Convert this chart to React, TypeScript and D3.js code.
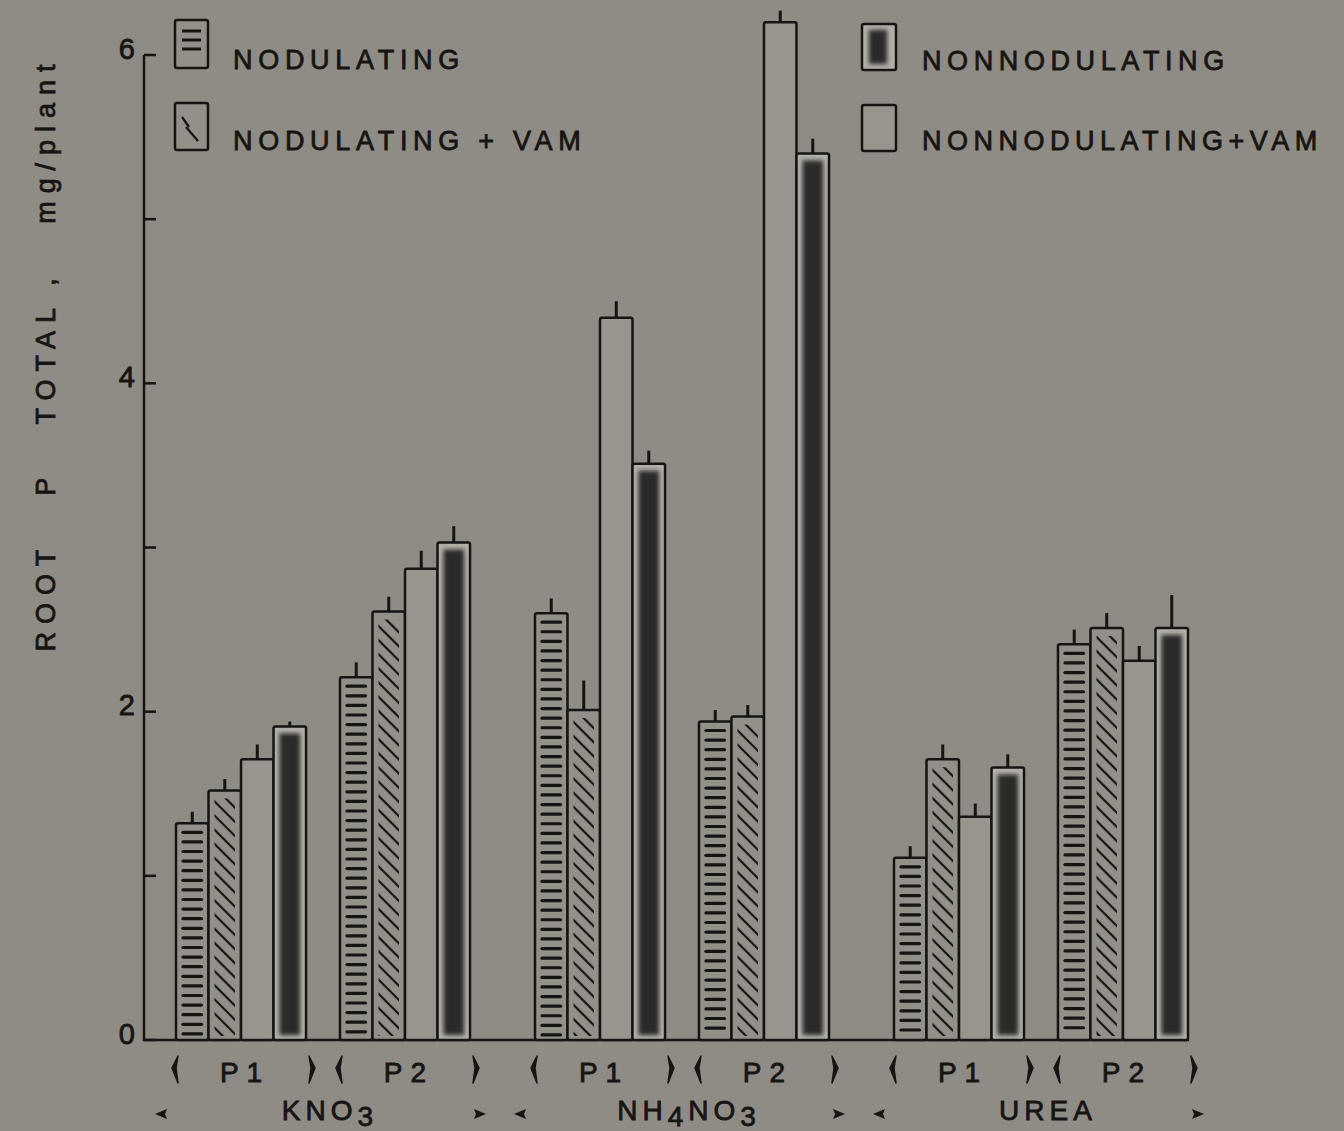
import * as d3 from "d3";
import React from "react";

// treatments, P levels and bar series
const sources = ["KNO3", "NH4NO3", "UREA"];
const levels = ["P1", "P2"];
const seriesKeys = ["nod", "nodVam", "nonVam", "non"];

// values per slot: KNO3 P1, KNO3 P2, NH4NO3 P1, NH4NO3 P2, UREA P1, UREA P2
const nodulating = [1.32, 2.21, 2.6, 1.94, 1.11, 2.41];
const nodulatingVam = [1.52, 2.61, 2.01, 1.97, 1.71, 2.51];
const nonnodulatingVam = [1.71, 2.87, 4.4, 6.2, 1.36, 2.31];
const nonnodulating = [1.91, 3.03, 3.51, 5.4, 1.66, 2.51];

const errNod = [0.07, 0.09, 0.09, 0.07, 0.07, 0.09];
const errNodVam = [0.07, 0.09, 0.18, 0.07, 0.09, 0.09];
const errNonVam = [0.09, 0.11, 0.1, 0.07, 0.08, 0.09];
const errNon = [0.03, 0.1, 0.08, 0.09, 0.08, 0.2];

const yTicks = [0, 2, 4, 6];
const yMinor = [1, 3, 5];

const W = 1344;
const H = 1131;
const BG = "#8f8b85";
const INK = "#161514";
const FONT = "'Liberation Sans', Arial, sans-serif";

const valuesBy: Record<string, number[]> = {
  nod: nodulating,
  nodVam: nodulatingVam,
  nonVam: nonnodulatingVam,
  non: nonnodulating,
};
const errBy: Record<string, number[]> = {
  nod: errNod,
  nodVam: errNodVam,
  nonVam: errNonVam,
  non: errNon,
};

export default function App() {
  const y = d3.scaleLinear().domain([0, 6]).range([1040, 55]);
  const outer = d3.scaleBand().domain(sources).range([176, 1188]).paddingInner(0.181);
  const inner = d3.scaleBand().domain(levels).range([0, outer.bandwidth()]).paddingInner(0.207);
  const sx = d3.scaleBand().domain(seriesKeys).range([0, inner.bandwidth()]);
  const bw = sx.bandwidth();

  const bars: any[] = [];
  sources.forEach((src, si) => {
    levels.forEach((lv, li) => {
      const slot = si * 2 + li;
      seriesKeys.forEach((k) => {
        const x = (outer(src) as number) + (inner(lv) as number) + (sx(k) as number);
        const v = valuesBy[k][slot];
        const e = errBy[k][slot];
        bars.push({ key: `${src}-${lv}-${k}`, k, x, top: y(v), errTop: y(v + e) });
      });
    });
  });

  const base = y(0);

  const drawBar = (b: any) => {
    const h = base - b.top;
    const parts: any[] = [];
    parts.push(
      <line key="err" x1={b.x + bw / 2} x2={b.x + bw / 2} y1={b.top} y2={b.errTop} stroke={INK} strokeWidth={3} />
    );
    if (b.k === "non") {
      parts.push(<rect key="r" x={b.x} y={b.top} width={bw} height={h} fill="#b3afa9" stroke={INK} strokeWidth={2.5} rx={2} />);
      parts.push(
        <rect key="c" x={b.x + 6} y={b.top + 7} width={bw - 12} height={Math.max(0, h - 12)} fill="#2c2b29" filter="url(#soft)" />
      );
    } else {
      parts.push(
        <rect key="r" x={b.x} y={b.top} width={bw} height={h} fill={b.k === "nonVam" ? "#98948e" : "#938f89"} stroke={INK} strokeWidth={2.5} rx={2} />
      );
    }
    if (b.k === "nod") {
      d3.range(b.top + 9, base - 5, 9.6).forEach((yy, i) => {
        parts.push(<line key={`d${i}`} x1={b.x + 7} x2={b.x + bw - 7} y1={yy} y2={yy} stroke={INK} strokeWidth={3.2} strokeLinecap="round" />);
      });
    }
    if (b.k === "nodVam") {
      parts.push(<rect key="h" x={b.x + 6} y={b.top + 8} width={bw - 12} height={Math.max(0, h - 12)} fill="url(#hatch)" />);
    }
    return <g key={b.key}>{parts}</g>;
  };

  const leftBracket = (x: number, cy: number, key: string) => (
    <path key={key} d={`M${x + 3},${cy - 13} L${x - 3},${cy - 1} L${x + 3},${cy + 14} L${x + 1},${cy - 1} Z`} fill={INK} stroke={INK} strokeWidth={1.5} strokeLinejoin="round" />
  );
  const rightBracket = (x: number, cy: number, key: string) => (
    <path key={key} d={`M${x - 3},${cy - 13} L${x + 3},${cy - 1} L${x - 3},${cy + 14} L${x - 1},${cy - 1} Z`} fill={INK} stroke={INK} strokeWidth={1.5} strokeLinejoin="round" />
  );

  // regular weight thickened a little with a thin stroke, like the printed lettering
  const textStyle = { fontFamily: FONT, fontWeight: 400, fill: INK, stroke: INK, strokeWidth: 0.8 } as any;

  const sub = (label: string) => {
    const pieces = label.split(/(\d)/).filter((s) => s.length);
    return pieces.map((p, i) =>
      /\d/.test(p) ? (
        <tspan key={i} baselineShift="-20%">{p}</tspan>
      ) : (
        <tspan key={i}>{p}</tspan>
      )
    );
  };

  return (
    <svg width={W} height={H} style={{ position: "absolute", left: 0, top: 0 }}>
      <defs>
        <pattern id="hatch" patternUnits="userSpaceOnUse" width={10} height={10} patternTransform="rotate(45)">
          <line x1={0} x2={10} y1={5} y2={5} stroke={INK} strokeWidth={2.2} />
        </pattern>
        <filter id="soft" x="-30%" y="-10%" width="160%" height="120%">
          <feGaussianBlur stdDeviation={2.2} />
        </filter>
      </defs>
      <rect width={W} height={H} fill={BG} />

      {/* axes */}
      <line x1={144} x2={144} y1={y(6)} y2={base + 1} stroke={INK} strokeWidth={2.5} />
      <line x1={143} x2={1189} y1={base} y2={base} stroke={INK} strokeWidth={2.5} />
      {yTicks.concat(yMinor).map((t) => (
        <line key={`t${t}`} x1={144} x2={156} y1={y(t)} y2={y(t)} stroke={INK} strokeWidth={2.5} />
      ))}
      {yTicks.map((t) => (
        <text key={`l${t}`} x={135} y={y(t) - 4} textAnchor="end" dominantBaseline="middle" fontSize={29} {...textStyle}>
          {t}
        </text>
      ))}
      <text
        transform="translate(55,358) rotate(-90)"
        textAnchor="middle"
        fontSize={27}
        textLength={587}
        lengthAdjust="spacing"
        style={{ whiteSpace: "pre" }}
        {...textStyle}
      >
        {"ROOT   P   TOTAL ,   mg/plant"}
      </text>

      {bars.map(drawBar)}

      {/* x labels */}
      {sources.map((src) =>
        levels.map((lv) => {
          const x0 = (outer(src) as number) + (inner(lv) as number);
          const x1 = x0 + inner.bandwidth();
          return (
            <g key={`${src}${lv}`}>
              {leftBracket(x0 - 1, 1069, "lb")}
              {rightBracket(x1 + 6, 1069, "rb")}
              <text x={(x0 + x1) / 2 + 4} y={1082} textAnchor="middle" fontSize={28} letterSpacing={8} {...textStyle}>
                {lv}
              </text>
            </g>
          );
        })
      )}
      {sources.map((src) => {
        const x0 = outer(src) as number;
        const x1 = x0 + outer.bandwidth();
        const cy = 1114;
        return (
          <g key={`o${src}`}>
            <path d={`M${x0 - 21},${cy} L${x0 - 9},${cy - 5} L${x0 - 11},${cy} L${x0 - 9},${cy + 5} Z`} fill={INK} />
            <path d={`M${x1 + 16},${cy} L${x1 + 4},${cy - 5} L${x1 + 6},${cy} L${x1 + 4},${cy + 5} Z`} fill={INK} />
            <text x={(x0 + x1) / 2 + 7} y={1120} textAnchor="middle" fontSize={28} letterSpacing={5} {...textStyle}>
              {sub(src)}
            </text>
          </g>
        );
      })}

      {/* legend */}
      <g>
        <rect x={175} y={20} width={33} height={48} fill="#938f89" stroke={INK} strokeWidth={2.5} rx={2} />
        {[31, 40, 49].map((yy) => (
          <line key={yy} x1={182} x2={201} y1={yy} y2={yy} stroke={INK} strokeWidth={3} />
        ))}
        <text x={233} y={69} fontSize={27} letterSpacing={5.7} {...textStyle}>NODULATING</text>

        <rect x={175} y={103} width={33} height={47} fill="#938f89" stroke={INK} strokeWidth={2.5} rx={2} />
        <line x1={182} x2={189} y1={117} y2={127} stroke={INK} strokeWidth={2.2} />
        <line x1={186} x2={198} y1={127} y2={141} stroke={INK} strokeWidth={2.2} />
        <text x={233} y={150} fontSize={27} letterSpacing={5.7} {...textStyle}>NODULATING + VAM</text>

        <rect x={862} y={24} width={34} height={46} fill="#b3afa9" stroke={INK} strokeWidth={2.5} rx={2} />
        <rect x={869} y={30} width={18} height={34} fill="#2c2b29" filter="url(#soft)" />
        <text x={922} y={70} fontSize={27} letterSpacing={5.6} {...textStyle}>NONNODULATING</text>

        <rect x={862} y={105} width={34} height={46} fill="#98948e" stroke={INK} strokeWidth={2.5} rx={2} />
        <text x={922} y={150} fontSize={27} letterSpacing={5.5} {...textStyle}>NONNODULATING+VAM</text>
      </g>
    </svg>
  );
}
